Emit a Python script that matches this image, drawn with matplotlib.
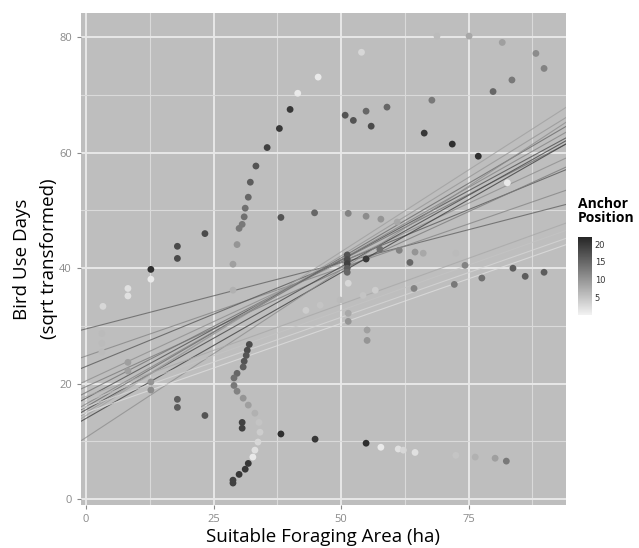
import matplotlib.pyplot as plt
import matplotlib.colors as mcolors
import numpy as np

# scatter points: foraging area (ha), bird use days (sqrt), anchor position
area = [45.5, 41.5, 40.0, 37.9, 35.5, 33.3, 32.2, 31.8, 31.2, 31.0, 30.6, 30.0, 29.6, 28.8, 28.8,
        23.3, 17.9, 17.9, 12.7, 12.7, 8.2, 8.2, 3.3, 3.1, 3.1, 3.1, 8.2, 8.2, 12.7, 12.7, 17.9, 17.9, 23.3,
        38.2, 44.8, 51.4, 54.9, 57.8, 61.0,
        50.8, 52.4, 54.9, 59.0, 55.9, 54.0, 67.8, 66.3, 71.8, 76.9, 82.6,
        68.8, 75.1, 81.6, 88.2, 89.8, 83.5, 79.8,
        51.2, 51.2, 51.2, 51.2, 51.2, 54.9, 57.6, 61.4, 64.5, 66.1, 72.5, 74.3, 63.5,
        77.6, 83.7, 86.1, 89.8, 64.3, 72.2,
        51.4, 51.4, 51.4, 55.1, 55.1,
        43.1, 45.9, 49.8, 54.3, 56.7,
        32.0, 31.6, 31.4, 31.0, 30.8, 29.6, 29.0, 29.0, 29.6,
        30.8, 31.8, 33.1, 33.9, 34.1, 33.7, 33.1, 32.7,
        30.6, 30.6, 31.8, 31.2, 30.0, 28.8, 28.8,
        38.2, 44.9, 54.9, 57.8, 61.2, 62.2, 64.5, 72.5, 76.3, 80.2, 82.4]
use_days = [73.1, 70.3, 67.5, 64.2, 60.9, 57.7, 54.9, 52.3, 50.4, 48.9, 47.6, 46.9, 44.1, 40.7, 36.2,
            46.0, 43.8, 41.7, 39.8, 38.1, 36.5, 35.2, 33.4, 28.7, 27.0, 25.5, 23.7, 22.2, 20.3, 18.9, 17.3, 15.9, 14.5,
            48.8, 49.6, 49.5, 49.0, 48.5, 48.0,
            66.5, 65.6, 67.2, 67.9, 64.6, 77.4, 69.1, 63.4, 61.5, 59.4, 54.8,
            80.2, 80.2, 79.1, 77.2, 74.6, 72.6, 70.6,
            42.3, 41.5, 40.8, 40.0, 39.3, 41.6, 43.3, 43.1, 42.8, 42.6, 42.6, 40.5, 41.0,
            38.3, 40.0, 38.6, 39.3, 36.5, 37.2,
            37.4, 32.2, 30.8, 29.3, 27.5,
            32.7, 33.6, 34.5, 35.3, 36.2,
            26.8, 25.8, 24.9, 23.9, 22.9, 21.8, 21.0, 19.7, 18.7,
            17.5, 16.3, 14.9, 13.3, 11.6, 9.9, 8.5, 7.3,
            13.3, 12.3, 6.2, 5.2, 4.3, 3.3, 2.8,
            11.3, 10.4, 9.7, 9.0, 8.7, 8.5, 8.1, 7.6, 7.3, 7.1, 6.6]
anchor = [1, 1, 20, 20, 19, 17, 16, 15, 14, 14, 13, 13, 10, 9, 7,
          18, 18, 18, 21, 1, 2, 2, 3, 6, 6, 6, 9, 9, 10, 11, 16, 16, 17,
          17, 15, 12, 11, 10, 8,
          17, 17, 15, 15, 18, 3, 13, 20, 21, 21, 1,
          6, 8, 9, 11, 12, 13, 15,
          17, 18, 19, 16, 15, 20, 14, 12, 10, 8, 6, 12, 15,
          14, 16, 16, 16, 12, 13,
          3, 8, 10, 9, 10,
          4, 5, 6, 5, 4,
          18, 18, 17, 17, 16, 15, 14, 13, 12,
          10, 9, 7, 5, 4, 3, 2, 1,
          19, 19, 20, 20, 20, 19, 19,
          21, 20, 21, 1, 2, 3, 2, 5, 7, 9, 13]

# fitted lines: intercept, slope, anchor position
line_intercept = [29.5, 24.8, 23.0, 20.5, 19.5, 18.5, 17.5, 16.5, 16.0, 15.5, 15.0, 14.5, 14.0, 10.7,
                  17.8, 17.0, 16.0, 15.0]
line_slope = [0.229, 0.305, 0.362, 0.410, 0.404, 0.457, 0.479, 0.500, 0.516, 0.495, 0.543, 0.567, 0.505, 0.580,
              0.319, 0.314, 0.310, 0.309]
line_anchor = [16, 12, 17, 11, 13, 14, 18, 12, 15, 19, 10, 9, 20, 11, 8, 5, 3, 2]

cmap = mcolors.LinearSegmentedColormap.from_list('greys', ['#F2F2F2', '#262626'])
norm = mcolors.Normalize(vmin=0, vmax=22)

fig = plt.figure(figsize=(6.39, 5.48), dpi=100)
ax = fig.add_axes([81 / 639, 1 - 505 / 548, 485 / 639, 492 / 548])
ax.set_facecolor('#BEBEBE')

for a, b, c in zip(line_intercept, line_slope, line_anchor):
    ax.axline((0, a), slope=b, color=cmap(norm(c)), lw=0.8, alpha=0.75, zorder=2)

ax.scatter(area, use_days, c=anchor, cmap=cmap, norm=norm, s=24, linewidths=0, zorder=3)

ax.set_xlim(-1, 94.1)
ax.set_ylim(-1, 84.2)
ax.set_xticks([0, 25, 50, 75])
ax.set_yticks([0, 20, 40, 60, 80])
ax.set_xticks([12.5, 37.5, 62.5, 87.5], minor=True)
ax.set_yticks([10, 30, 50, 70], minor=True)
ax.grid(which='major', color='#E8E8E8', lw=1.4)
ax.grid(which='minor', color='#DADADA', lw=0.8)
ax.set_axisbelow(True)
for s in ax.spines.values():
    s.set_visible(False)
ax.tick_params(which='major', colors='#8A8A8A', labelsize=8, length=3)
ax.tick_params(which='minor', length=0)
for lab in ax.get_xticklabels() + ax.get_yticklabels():
    lab.set_fontfamily('Open Sans')

ax.set_xlabel('Suitable Foraging Area (ha)', fontsize=13.5, family='Open Sans', labelpad=2)
ax.set_ylabel('Bird Use Days\n(sqrt transformed)', fontsize=13.5, family='Open Sans',
              linespacing=1.6)
ax.yaxis.set_label_coords(-0.048, 0.5)

cax = fig.add_axes([578 / 639, 1 - 315 / 548, 14 / 639, 78 / 548])
cb = fig.colorbar(plt.cm.ScalarMappable(norm=norm, cmap=cmap), cax=cax, ticks=[5, 10, 15, 20])
cb.outline.set_visible(False)
cax.tick_params(length=0, labelsize=6, pad=2, colors='#333333')
fig.text(578 / 639, 1 - 197 / 548, 'Anchor\nPosition', fontsize=10, fontweight='bold',
         family='Open Sans', va='top', ha='left', linespacing=1.0)

fig.savefig('out.png', dpi=100, facecolor='white')
